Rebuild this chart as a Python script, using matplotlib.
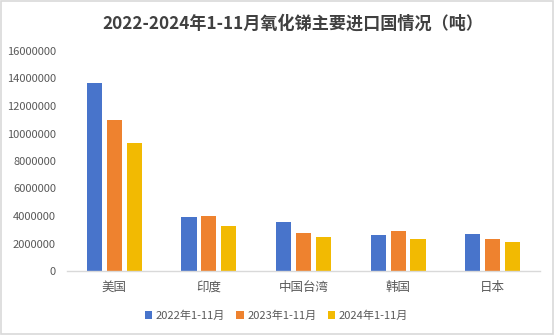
import matplotlib
matplotlib.use("Agg")
import matplotlib.pyplot as plt
import numpy as np
from matplotlib.patches import Rectangle

plt.rcParams['font.family'] = ['Noto Sans CJK SC', 'DejaVu Sans']

categories = ["美国", "印度", "中国台湾", "韩国", "日本"]
series_names = ["2022年1-11月", "2023年1-11月", "2024年1-11月"]
v2022 = [13680000, 3930000, 3560000, 2620000, 2690000]
v2023 = [10980000, 4000000, 2760000, 2900000, 2330000]
v2024 = [9300000, 3270000, 2470000, 2330000, 2100000]
colors = ["#4874CB", "#EE822F", "#F2BA02"]
yticks = [0, 2000000, 4000000, 6000000, 8000000, 10000000, 12000000, 14000000, 16000000]

fig = plt.figure(figsize=(5.55, 3.35), dpi=100)
ax = fig.add_axes([67/555, 64/335, (540-67)/555, (271-51)/335])

x = np.arange(len(categories))
w = 0.16
step = 0.21
for i, (vals, name) in enumerate(zip([v2022, v2023, v2024], series_names)):
    ax.bar(x + (i - 1) * step, vals, width=w, color=colors[i], label=name, zorder=2)

ax.set_xlim(-0.5, len(categories) - 0.5)
ax.set_ylim(0, 16000000)
ax.set_yticks(yticks)
ax.set_yticklabels([str(t) for t in yticks], fontsize=8, color="#595959")
ax.set_xticks(x)
ax.set_xticklabels(categories, fontsize=9, color="#595959")
ax.tick_params(axis='both', length=0)
ax.tick_params(axis='x', pad=7)
ax.tick_params(axis='y', pad=8)
for s in ['top', 'right', 'left']:
    ax.spines[s].set_visible(False)
ax.spines['bottom'].set_color('#D9D9D9')
ax.spines['bottom'].set_linewidth(1.0)

fig.text(0.527, 0.931, "2022-2024年1-11月氧化锑主要进口国情况（吨）", ha='center', va='center',
         fontsize=12.3, fontweight='bold', color='#404040')

leg = fig.legend(loc='center', bbox_to_anchor=(0.498, 0.058), ncol=3, frameon=False,
                 fontsize=8, handlelength=0.7, handleheight=0.7, handletextpad=0.3,
                 columnspacing=1.0, labelcolor='#595959')

fig.patches.append(Rectangle((0.002, 0.003), 0.994, 0.994, transform=fig.transFigure,
                             fill=False, edgecolor='#D9D9D9', linewidth=1.2))

fig.savefig("out.png", dpi=100)
